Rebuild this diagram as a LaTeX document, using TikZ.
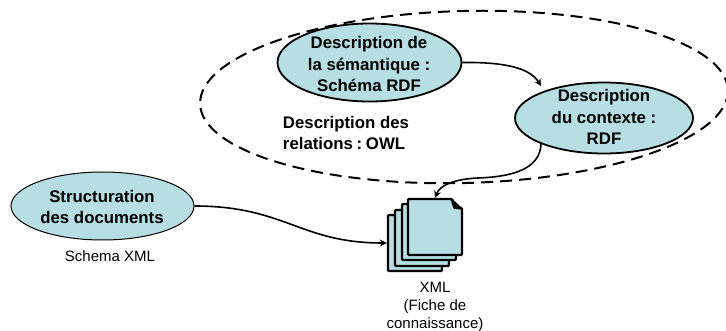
\documentclass[tikz,border=0pt]{standalone}
\usepackage{fontspec}
\setmainfont{Liberation Sans}
\usetikzlibrary{shapes.geometric,arrows.meta}
\definecolor{fillblue}{RGB}{183,222,226}
\tikzset{
  x=1pt,y=-1pt,
  bub/.style={ellipse,draw=black,fill=fillblue,line width=1.8pt,inner sep=0pt,minimum width=#1},
  lab/.style={font=\fontsize{16.8}{21.5}\selectfont\bfseries,align=center,text=black},
  small/.style={font=\fontsize{15}{18}\selectfont,align=center,text=black},
  sheet/.style={rectangle,rounded corners=1pt,draw=black,fill=fillblue,line width=2.4pt,inner sep=0pt,minimum width=54pt,minimum height=56pt},
  conn/.style={draw=black,line width=1.6pt,-{Stealth[length=7pt,width=7pt]}},
}
\begin{document}
\begin{tikzpicture}
\useasboundingbox (0,0) rectangle (726,331);
\begin{scope}
\clip (0,0) rectangle (726,331);
\draw[black,line width=2pt,dash pattern=on 12pt off 7pt,rotate around={1.5:(464,97)}] (464,97) ellipse [x radius=264,y radius=86];
\end{scope}
\node[bub=184pt,minimum height=78pt] (sem) at (369.5,62.5) {};
\node[lab] at (369,64) {Description de\\la sémantique :\\Schéma RDF};
\node[bub=178pt,minimum height=71pt] (ctx) at (604,118) {};
\node[lab] at (604,117) {Description\\du contexte :\\RDF};
\node[ellipse,draw=black,fill=fillblue,line width=1pt,inner sep=0pt,minimum width=183pt,minimum height=68pt] (str) at (102.5,206) {};
\node[lab] at (102,207) {Structuration\\des documents};
\node[lab,align=left] (owl) at (346,133) {Description des\\relations\hspace{0.22em}:\hspace{0.22em}OWL};
\node[small] (sch) at (110,256) {Schema XML};
\node[sheet] (d1) at (415,243) {};
\node[sheet] (d2) at (422,238) {};
\node[sheet] (d3) at (429,232) {};
\node[sheet] (d4) at (435,227) {};
\fill[white] (450,196) -- (465,196) -- (465,210) -- cycle;
\fill[black,draw=black,line width=1.4pt,line join=round] (451,199) -- (462,209) -- (454,208) -- cycle;
\node[small] (xml) at (435,307) {XML\\(Fiche de\\connaissance)};
\draw[conn] (sem.east) .. controls (505,62) and (530,68) .. (541,86);
\draw[conn] (str.east) .. controls (285,206) and (300,243) .. (d1.west);
\draw[conn] (541,143) .. controls (541,172) and (505,177) .. (478,178) .. controls (455,179) and (440,185) .. (d4.north);
\end{tikzpicture}
\end{document}
